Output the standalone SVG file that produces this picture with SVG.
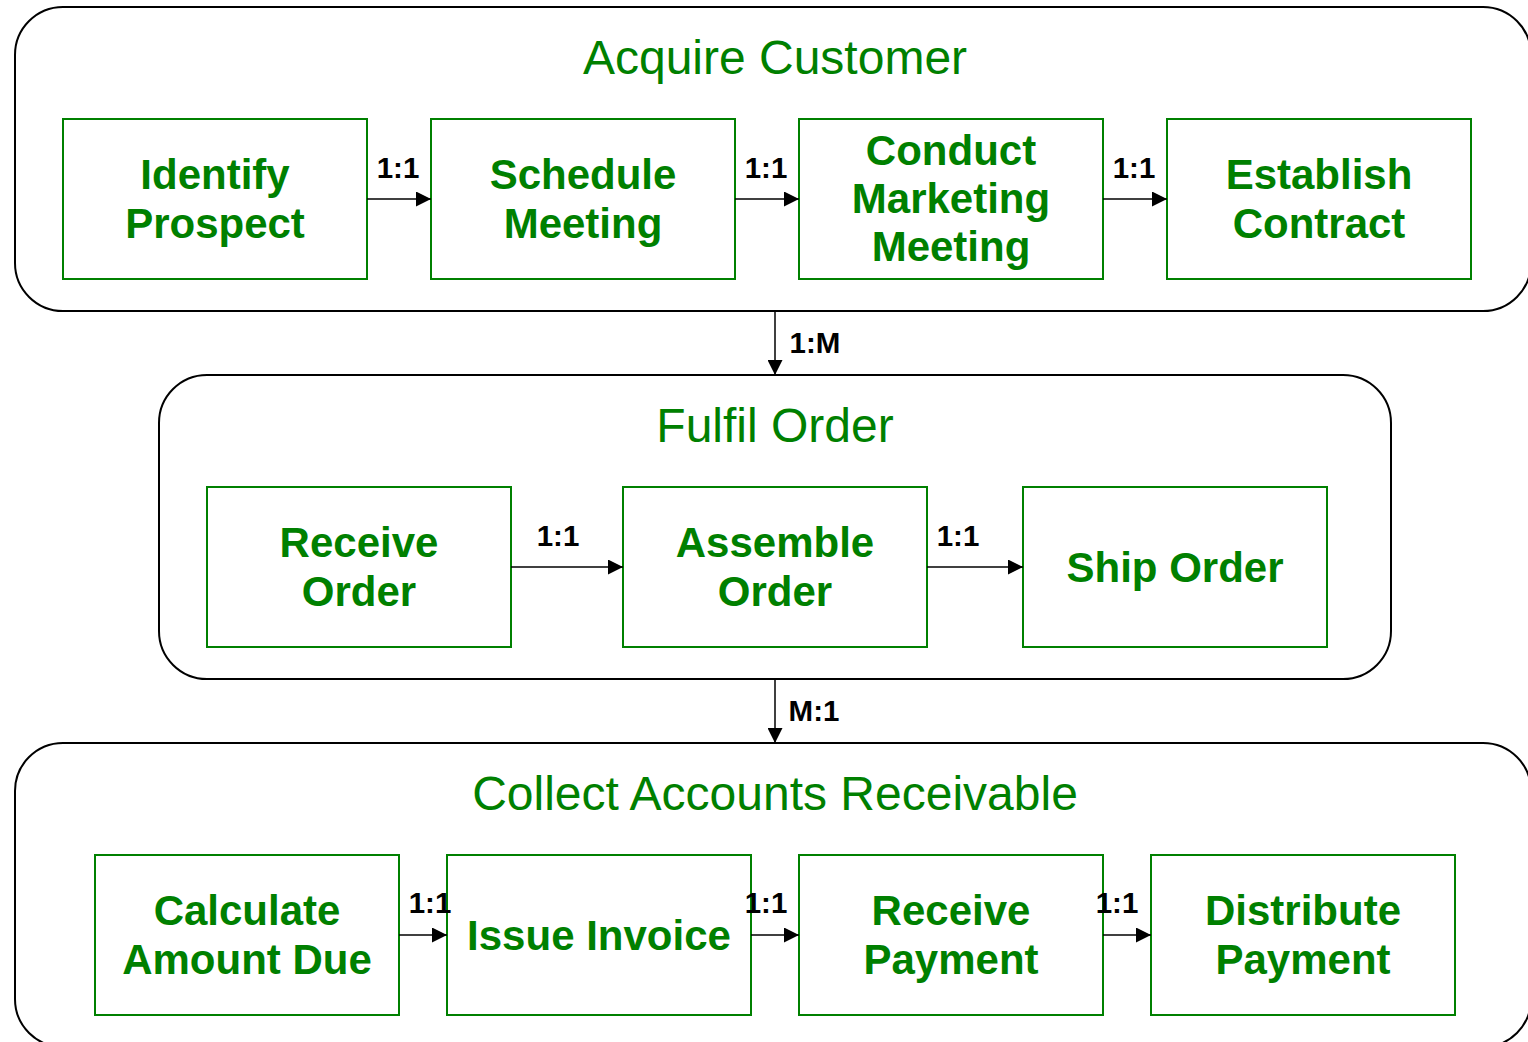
<svg xmlns="http://www.w3.org/2000/svg" width="1528" height="1042" viewBox="0 0 1528 1042">
<style>
.cont{fill:#fff;stroke:#000;stroke-width:2}
.box{fill:#fff;stroke:#008000;stroke-width:2}
.title{font-family:"Liberation Sans",Arial,sans-serif;font-size:48px;fill:#008000;text-anchor:middle}
.lbl{font-family:"Liberation Sans",Arial,sans-serif;font-size:42px;font-weight:bold;fill:#008000;text-anchor:middle}
.edge{stroke:#000;stroke-width:1.5;fill:none;marker-end:url(#arr)}
.rel{font-family:"Liberation Sans",Arial,sans-serif;font-size:29.5px;font-weight:bold;fill:#000;text-anchor:middle}
</style>
<defs>
<marker id="arr" markerWidth="15" markerHeight="15" refX="15" refY="7.5" orient="auto" markerUnits="userSpaceOnUse" viewBox="0 0 15 15">
<path d="M0,0 L15,7.5 L0,15 Z" fill="#000"/>
</marker>
</defs>
<rect width="1528" height="1042" fill="#fff"/>
<g id="acquire-customer">
<rect class="cont" x="15" y="7" width="1516" height="304" rx="48" ry="48"/>
<text class="title" x="775" y="74">Acquire Customer</text>
</g>
<g id="fulfil-order">
<rect class="cont" x="159" y="375" width="1232" height="304" rx="48" ry="48"/>
<text class="title" x="775" y="442">Fulfil Order</text>
</g>
<g id="collect-ar">
<rect class="cont" x="15" y="743" width="1516" height="304" rx="48" ry="48"/>
<text class="title" x="775" y="810">Collect Accounts Receivable</text>
</g>
<g id="identify-prospect">
<rect class="box" x="63" y="119" width="304" height="160"/>
<text class="lbl" x="215" y="189">Identify</text><text class="lbl" x="215" y="238">Prospect</text>
</g>
<g id="schedule-meeting">
<rect class="box" x="431" y="119" width="304" height="160"/>
<text class="lbl" x="583" y="189">Schedule</text><text class="lbl" x="583" y="238">Meeting</text>
</g>
<g id="conduct-marketing-meeting">
<rect class="box" x="799" y="119" width="304" height="160"/>
<text class="lbl" x="951" y="165">Conduct</text><text class="lbl" x="951" y="213">Marketing</text><text class="lbl" x="951" y="261">Meeting</text>
</g>
<g id="establish-contract">
<rect class="box" x="1167" y="119" width="304" height="160"/>
<text class="lbl" x="1319" y="189">Establish</text><text class="lbl" x="1319" y="238">Contract</text>
</g>
<g id="receive-order">
<rect class="box" x="207" y="487" width="304" height="160"/>
<text class="lbl" x="359" y="557">Receive</text><text class="lbl" x="359" y="606">Order</text>
</g>
<g id="assemble-order">
<rect class="box" x="623" y="487" width="304" height="160"/>
<text class="lbl" x="775" y="557">Assemble</text><text class="lbl" x="775" y="606">Order</text>
</g>
<g id="ship-order">
<rect class="box" x="1023" y="487" width="304" height="160"/>
<text class="lbl" x="1175" y="582">Ship Order</text>
</g>
<g id="calculate-amount-due">
<rect class="box" x="95" y="855" width="304" height="160"/>
<text class="lbl" x="247" y="925">Calculate</text><text class="lbl" x="247" y="974">Amount Due</text>
</g>
<g id="issue-invoice">
<rect class="box" x="447" y="855" width="304" height="160"/>
<text class="lbl" x="599" y="950">Issue Invoice</text>
</g>
<g id="receive-payment">
<rect class="box" x="799" y="855" width="304" height="160"/>
<text class="lbl" x="951" y="925">Receive</text><text class="lbl" x="951" y="974">Payment</text>
</g>
<g id="distribute-payment">
<rect class="box" x="1151" y="855" width="304" height="160"/>
<text class="lbl" x="1303" y="925">Distribute</text><text class="lbl" x="1303" y="974">Payment</text>
</g>
<g id="connectors">
<line class="edge" x1="367" y1="199" x2="431" y2="199"/>
<text class="rel" x="398" y="178">1:1</text>
<line class="edge" x1="735" y1="199" x2="799" y2="199"/>
<text class="rel" x="766" y="178">1:1</text>
<line class="edge" x1="1103" y1="199" x2="1167" y2="199"/>
<text class="rel" x="1134" y="178">1:1</text>
<line class="edge" x1="775" y1="311" x2="775" y2="375"/>
<text class="rel" x="815" y="353">1:M</text>
<line class="edge" x1="511" y1="567" x2="623" y2="567"/>
<text class="rel" x="558" y="546">1:1</text>
<line class="edge" x1="927" y1="567" x2="1023" y2="567"/>
<text class="rel" x="958" y="546">1:1</text>
<line class="edge" x1="775" y1="679" x2="775" y2="743"/>
<text class="rel" x="814" y="721">M:1</text>
<line class="edge" x1="399" y1="935" x2="447" y2="935"/>
<text class="rel" x="430" y="913">1:1</text>
<line class="edge" x1="751" y1="935" x2="799" y2="935"/>
<text class="rel" x="766" y="913">1:1</text>
<line class="edge" x1="1103" y1="935" x2="1151" y2="935"/>
<text class="rel" x="1117" y="913">1:1</text>
</g>
</svg>
